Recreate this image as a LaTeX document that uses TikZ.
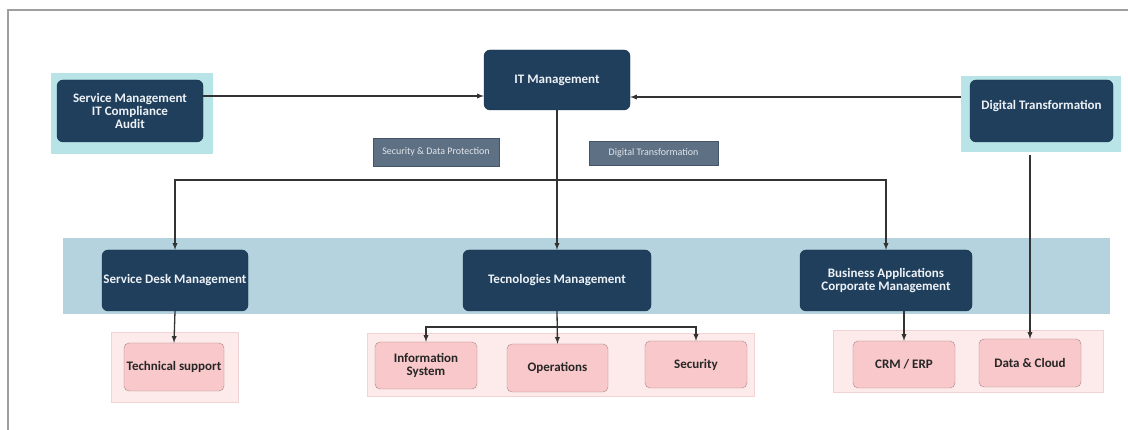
\documentclass[tikz,border=0pt]{standalone}
\usepackage{fontspec}
\setmainfont{Carlito}
\definecolor{navybox}{HTML}{1F3F5C}
\definecolor{navyedge}{HTML}{16304A}
\definecolor{navytext}{HTML}{EEF2F7}
\definecolor{cyanbg}{HTML}{B8E4E8}
\definecolor{bandblue}{HTML}{B4D3DF}
\definecolor{tagfill}{HTML}{5E7084}
\definecolor{tagedge}{HTML}{44556A}
\definecolor{tagtext}{HTML}{E2E6EC}
\definecolor{pinkbg}{HTML}{FDEAEA}
\definecolor{pinkedge}{HTML}{F2D3D3}
\definecolor{pinkfill}{HTML}{F8C8CA}
\definecolor{pinkline}{HTML}{A88888}
\definecolor{linkgray}{HTML}{333333}
\tikzset{
  darkbox/.style={draw=navyedge, fill=navybox, rounded corners=6pt, text=navytext,
    font=\fontsize{13}{13}\selectfont\bfseries, align=center, inner sep=1pt},
  tagbox/.style={draw=tagedge, fill=tagfill, text=tagtext,
    font=\fontsize{10}{10}\selectfont, inner sep=1pt},
  pinkbox/.style={draw=pinkline, fill=pinkfill, rounded corners=5pt, text=black!85,
    font=\fontsize{13}{13}\selectfont\bfseries, align=center, inner sep=1pt},
  groupbg/.style={inner sep=0pt},
  link/.style={draw=linkgray, line width=1.3pt, -latex},
}
\begin{document}
\begin{tikzpicture}[x=1pt,y=-1pt]
\useasboundingbox (0,0) rectangle (1128,430);
% Screenshot frame.
\draw[gray!75, line width=1.5pt] (8,430) -- (8,10) -- (1128,10);

% Background panels.
\node[groupbg, fill=cyanbg, minimum width=162, minimum height=81] (svcbg) at (132,113.5) {};
\node[groupbg, fill=cyanbg, minimum width=160, minimum height=76] (dtbg) at (1041,114) {};
\node[groupbg, fill=bandblue, minimum width=1047, minimum height=76] (band) at (586.5,276) {};
\node[groupbg, fill=pinkbg, draw=pinkedge, minimum width=127, minimum height=70] (pbgleft) at (174.5,367) {};
\node[groupbg, fill=pinkbg, draw=pinkedge, minimum width=387, minimum height=63] (pbgmid) at (560.5,364.5) {};
\node[groupbg, fill=pinkbg, draw=pinkedge, minimum width=270, minimum height=62] (pbgright) at (968,361) {};

% Management boxes.
\node[darkbox, minimum width=146, minimum height=62] (svcmgmt) at (130,111) {Service Management\\IT Compliance\\Audit};
\node[darkbox, minimum width=146, minimum height=60] (itmgmt) at (557,80) {IT Management};
\node[darkbox, minimum width=143, minimum height=62] (digtrans) at (1041.5,111) {Digital Transformation\\\mbox{}};
\node[darkbox, minimum width=146, minimum height=61] (sdm) at (175,280.5) {Service Desk Management};
\node[darkbox, minimum width=188, minimum height=61] (tecm) at (557,280.5) {Tecnologies Management};
\node[darkbox, minimum width=172, minimum height=61] (bizapp) at (886,280.5) {Business Applications\\Corporate Management};

% Axis tags.
\node[tagbox, minimum width=126, minimum height=28] (secdp) at (436,152) {Security \& Data Protection};
\node[tagbox, minimum width=129, minimum height=24] (dtlabel) at (653.5,153) {Digital Transformation};

% Service boxes.
\node[pinkbox, minimum width=100, minimum height=48] (techsup) at (174,367) {Technical support};
\node[pinkbox, minimum width=102, minimum height=47] (infosys) at (426,365.5) {Information\\System};
\node[pinkbox, minimum width=101, minimum height=48] (ops) at (557.5,368) {Operations};
\node[pinkbox, minimum width=102, minimum height=47] (secur) at (696,364.5) {Security};
\node[pinkbox, minimum width=102, minimum height=47] (crm) at (904,364.5) {CRM / ERP};
\node[pinkbox, minimum width=102, minimum height=48] (datacloud) at (1030,363) {Data \& Cloud};

% Inputs to IT management.
\coordinate (itin) at ([yshift=-16pt]itmgmt.west);
\coordinate (itright) at ([yshift=-17pt]itmgmt.east);
\draw[link] (svcmgmt.east |- itin) -- (itin);
\draw[link] (dtbg.west |- itright) -- (itright);

% Top-down distribution.
\coordinate (bus) at (557,180);
\draw[link] (itmgmt.south) -- (tecm.north);
\draw[link] (bus) -| (sdm.north);
\draw[link] (bus) -| (bizapp.north);

% Second level.
\coordinate (tbus) at (557,327);
\draw[link] (sdm.south) -- (techsup.north);
\draw[link] (tecm.south) -- (ops.north);
\draw[link] (tbus) -| (infosys.north);
\draw[link] (tbus) -| (secur.north);
\draw[link] (bizapp.south -| crm.north) -- (crm.north);
\draw[link] ([yshift=-3pt]dtbg.south -| datacloud.north) -- (datacloud.north);
\end{tikzpicture}
\end{document}
